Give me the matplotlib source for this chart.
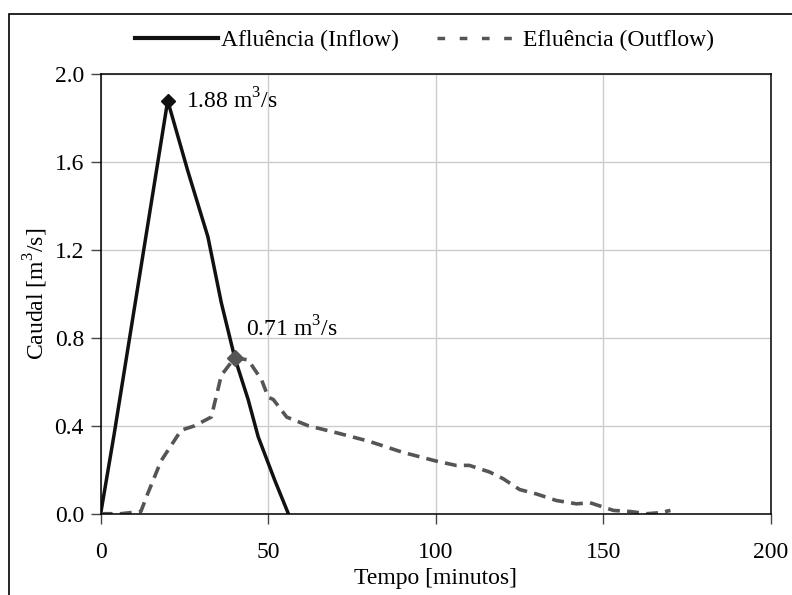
import matplotlib.pyplot as plt
from matplotlib.lines import Line2D
from matplotlib.patches import Rectangle

# Hidrogramas de afluência e efluência
t_in = [0, 4, 12, 20, 26, 32, 36, 40, 44, 47, 52, 56]
q_in = [0.0, 0.36, 1.12, 1.88, 1.56, 1.26, 0.96, 0.71, 0.52, 0.35, 0.15, 0.0]

t_out = [0, 6, 12, 14, 18, 21, 24, 28, 33, 36, 40, 44, 48, 50, 51.5, 53, 55.5,
         62, 70, 80, 90, 100, 106, 110, 116, 120, 125, 130, 136, 142, 146,
         150, 153, 158, 163, 167, 170]
q_out = [0.0, 0.0, 0.01, 0.09, 0.24, 0.31, 0.38, 0.40, 0.44, 0.63, 0.71, 0.70,
         0.61, 0.53, 0.52, 0.49, 0.44, 0.40, 0.37, 0.33, 0.28, 0.24, 0.22,
         0.22, 0.19, 0.16, 0.11, 0.09, 0.06, 0.045, 0.05, 0.03, 0.015, 0.01,
         0.0, 0.005, 0.015]

x_ticks = [0, 50, 100, 150, 200]
y_ticks = [0.0, 0.4, 0.8, 1.2, 1.6, 2.0]

plt.rcParams["font.family"] = ["Liberation Serif", "DejaVu Serif"]
plt.rcParams["mathtext.fontset"] = "custom"
plt.rcParams["mathtext.rm"] = "Liberation Serif"

FS = 17
c_in = "#111111"
c_out = "#555555"

fig = plt.figure(figsize=(7.92, 5.95), dpi=100)
ax = fig.add_axes([0.1271, 0.1366, 0.8464, 0.7385])

# moldura exterior (cortada à direita e em baixo)
fig.patches.append(Rectangle((9 / 792, -0.05), 1.2, 1 - 14 / 595 + 0.05,
                             transform=fig.transFigure, fill=False,
                             edgecolor="black", linewidth=1.2))

ax.plot(t_in, q_in, color=c_in, linewidth=2.5, solid_joinstyle="miter")
ax.plot(t_out, q_out, color=c_out, linewidth=2.6, dashes=(3.3, 2.0))

i_pk = q_in.index(max(q_in))
o_pk = q_out.index(max(q_out))
ax.plot(t_in[i_pk], q_in[i_pk], marker="D", color=c_in, markersize=7)
ax.plot(t_out[o_pk], q_out[o_pk], marker="D", color=c_out, markersize=8.5)

ax.text(t_in[i_pk] + 5.5, q_in[i_pk], f"{q_in[i_pk]:.2f} m$^3$/s",
        fontsize=FS, va="center", ha="left")
ax.text(t_out[o_pk] + 3.5, q_out[o_pk] + 0.13, f"{q_out[o_pk]:.2f} m$^3$/s",
        fontsize=FS, va="center", ha="left")

ax.set_xlim(0, 200)
ax.set_ylim(0, 2.0)
ax.set_xticks(x_ticks)
ax.set_yticks(y_ticks)
ax.set_yticklabels([f"{v:.1f}" for v in y_ticks])
ax.tick_params(axis="both", labelsize=FS, length=7, width=1, direction="out",
               pad=5, color="#444444")
ax.tick_params(axis="x", pad=13)
ax.grid(True, color="#cccccc", linewidth=1)
ax.set_axisbelow(True)
for s in ax.spines.values():
    s.set_linewidth(1.1)

ax.set_xlabel("Tempo [minutos]", fontsize=FS, labelpad=4)
ax.set_ylabel("Caudal [m$^3$/s]", fontsize=FS, labelpad=3)

handles = [Line2D([], [], color=c_in, linewidth=3),
           Line2D([], [], color=c_out, linewidth=2.5, dashes=(2.2, 4.2))]
fig.legend(handles, ["Afluência (Inflow)", "Efluência (Outflow)"],
           loc="center", bbox_to_anchor=(0.536, 1 - 40 / 595), ncol=2,
           frameon=False, fontsize=FS, handlelength=3.5, handletextpad=0.15,
           columnspacing=1.6)

fig.savefig("out.png", dpi=100)
